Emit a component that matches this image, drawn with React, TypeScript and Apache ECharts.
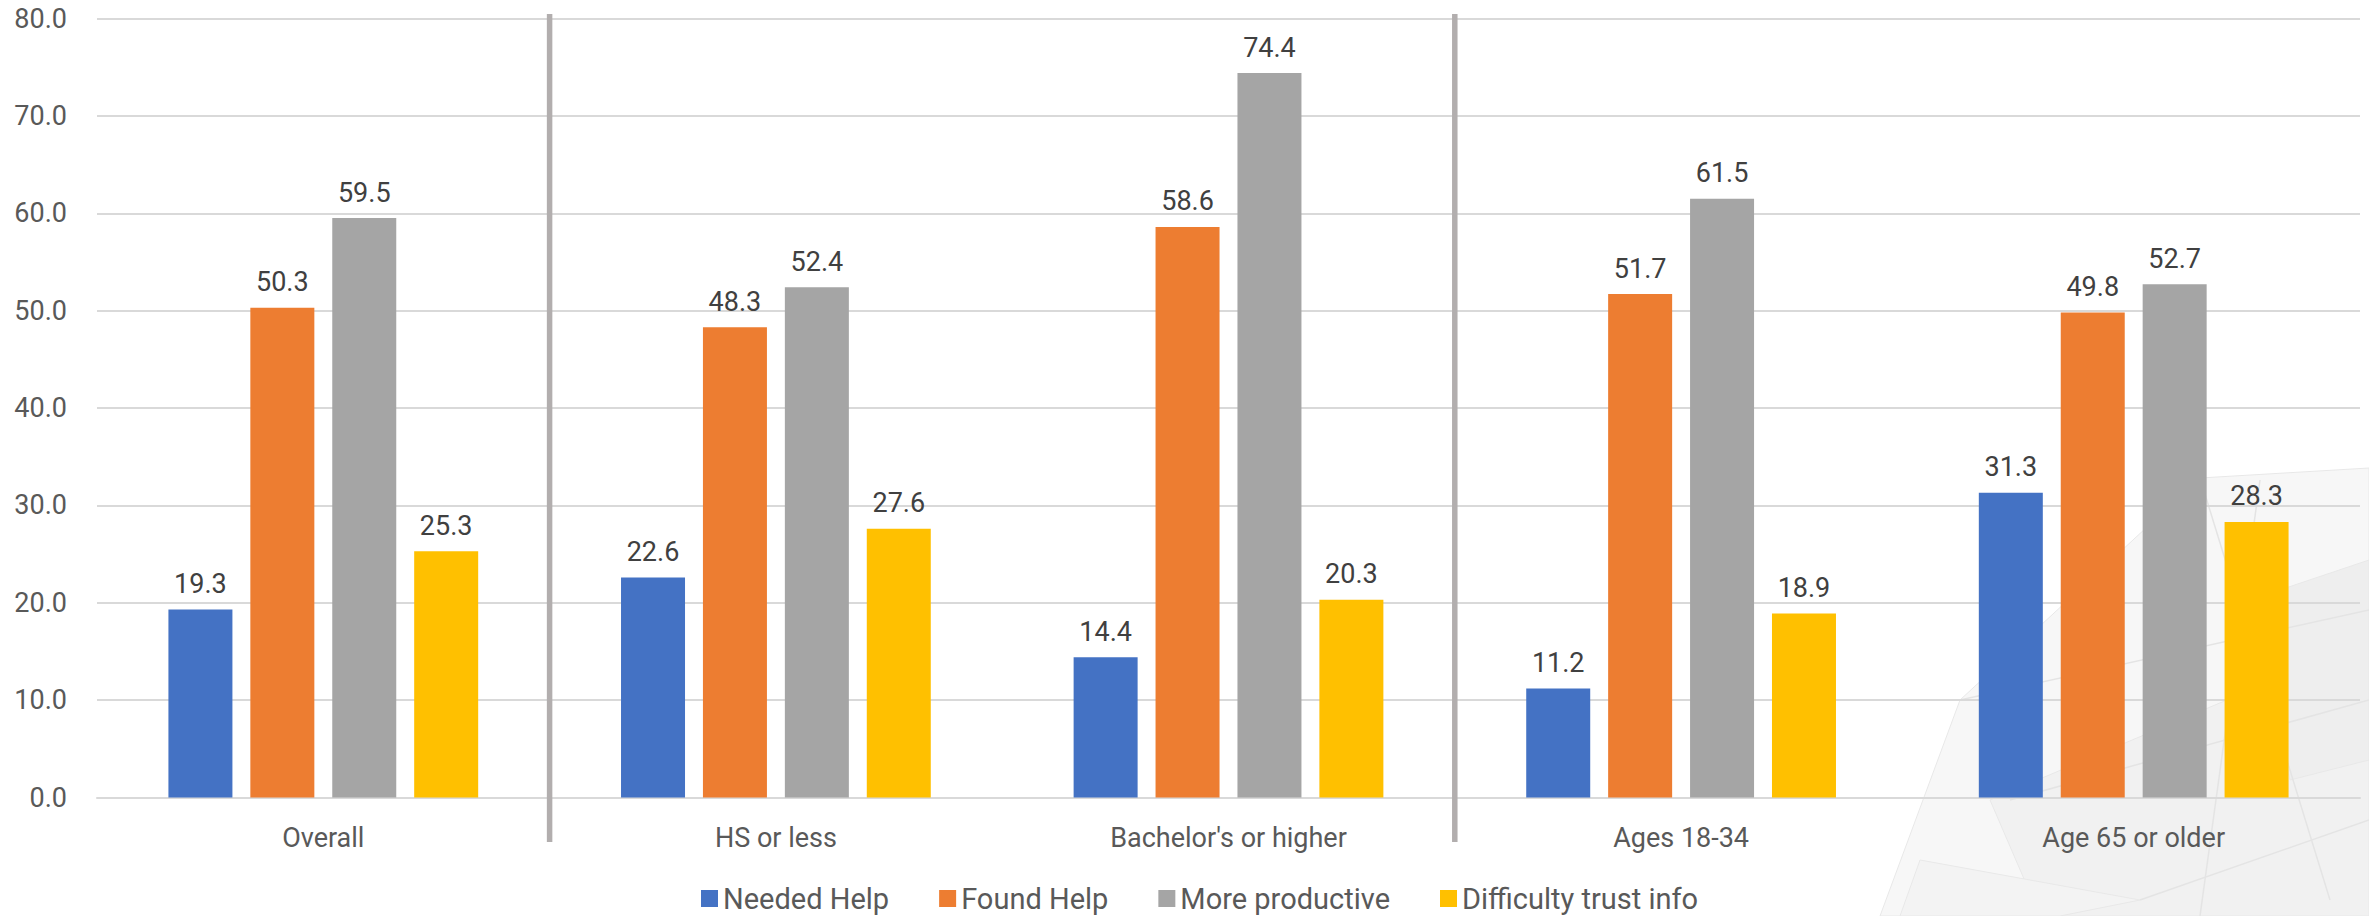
import React, { useEffect, useRef } from "react";
import * as echarts from "echarts";

const categories = ["Overall", "HS or less", "Bachelor's or higher", "Ages 18-34", "Age 65 or older"];
const seriesNames = ["Needed Help", "Found Help", "More productive", "Difficulty trust info"];
const neededHelp = [19.3, 22.6, 14.4, 11.2, 31.3];
const foundHelp = [50.3, 48.3, 58.6, 51.7, 49.8];
const moreProductive = [59.5, 52.4, 74.4, 61.5, 52.7];
const difficultyTrust = [25.3, 27.6, 20.3, 18.9, 28.3];
const colors = ["#4472C4", "#ED7D31", "#A5A5A5", "#FFC000"];
const separatorsAfter = [0, 2]; // group separators after these category indices

const FONT = "Roboto, 'Liberation Sans', sans-serif";

export default function App() {
  const ref = useRef<HTMLDivElement>(null);
  useEffect(() => {
    if (!ref.current) return;
    const chart = echarts.init(ref.current, undefined, { renderer: "svg" });
    const values = [neededHelp, foundHelp, moreProductive, difficultyTrust];

    const bgPolys = [
      { pts: [[2200, 478], [2369, 468], [2369, 916], [1880, 916], [1960, 700]], fill: "#f7f7f7" },
      { pts: [[1990, 800], [2369, 640], [2369, 916], [2040, 916]], fill: "#f1f1f1" },
      { pts: [[2250, 600], [2369, 560], [2369, 760], [2290, 780]], fill: "#eeeeee" },
      { pts: [[1920, 860], [2140, 900], [2060, 916], [1900, 916]], fill: "#f3f3f3" },
    ];
    const bgLines = [
      [[2200, 478], [2330, 900]],
      [[2010, 800], [2369, 700]],
      [[2140, 900], [2369, 820]],
      [[1960, 700], [2369, 610]],
      [[2260, 480], [2200, 916]],
    ];

    const graphicBg: any[] = [];
    bgPolys.forEach((p, i) =>
      graphicBg.push({
        id: "bgp" + i,
        type: "polygon",
        z: -10,
        silent: true,
        shape: { points: p.pts },
        style: { fill: p.fill, stroke: "#e8e8e8", lineWidth: 1 },
      })
    );
    bgLines.forEach((l, i) =>
      graphicBg.push({
        id: "bgl" + i,
        type: "line",
        z: -9,
        silent: true,
        shape: { x1: l[0][0], y1: l[0][1], x2: l[1][0], y2: l[1][1] },
        style: { stroke: "#e4e4e4", lineWidth: 1.5 },
      })
    );

    chart.setOption({
      animation: false,
      backgroundColor: "#ffffff",
      textStyle: { fontFamily: FONT },
      color: colors,
      grid: { left: 97, right: 9, top: 18.5, bottom: 118.5, containLabel: false },
      legend: {
        data: seriesNames,
        left: 696,
        top: 879,
        icon: "rect",
        itemWidth: 17,
        itemHeight: 17,
        itemGap: 50,
        textStyle: { fontSize: 29, color: "#595959", fontFamily: FONT },
      },
      xAxis: {
        type: "category",
        data: categories,
        axisLine: { show: true, lineStyle: { color: "#d9d9d9", width: 2 } },
        axisTick: { show: false },
        axisLabel: { fontSize: 27, color: "#595959", margin: 27, fontFamily: FONT },
      },
      yAxis: {
        type: "value",
        min: 0,
        max: 80,
        interval: 10,
        axisLine: { show: false },
        axisTick: { show: false },
        splitLine: { lineStyle: { color: "#d9d9d9", width: 2 } },
        axisLabel: {
          fontSize: 27,
          color: "#595959",
          margin: 30,
          fontFamily: FONT,
          formatter: (v: number) => v.toFixed(1),
        },
      },
      series: seriesNames.map((name, i) => ({
        name,
        type: "bar",
        data: values[i],
        barWidth: 64,
        barGap: "28%",
        itemStyle: { color: colors[i] },
        label: {
          show: true,
          position: "top",
          distance: 12,
          fontSize: 27,
          color: "#404040",
          fontFamily: FONT,
          formatter: (p: any) => Number(p.value).toFixed(1),
        },
      })),
      graphic: graphicBg,
    });

    const seps = separatorsAfter.map((idx, k) => {
      const a = chart.convertToPixel({ xAxisIndex: 0 }, idx) as number;
      const b = chart.convertToPixel({ xAxisIndex: 0 }, idx + 1) as number;
      const x = (a + b) / 2;
      return {
        id: "sep" + k,
        type: "line",
        z: 5,
        silent: true,
        shape: { x1: x, y1: 14, x2: x, y2: 842 },
        style: { stroke: "#b2aeae", lineWidth: 5.5 },
      };
    });
    chart.setOption({ graphic: [...graphicBg, ...seps] });

    return () => chart.dispose();
  }, []);
  return (
    <div
      ref={ref}
      style={{ position: "fixed", left: 0, top: 0, width: 2369, height: 916 }}
    />
  );
}
